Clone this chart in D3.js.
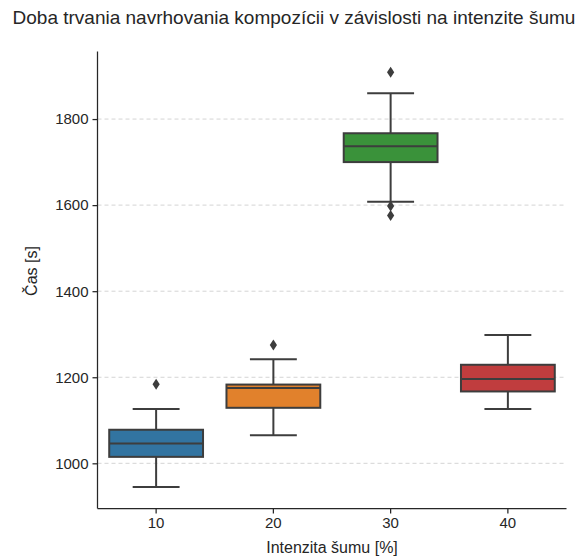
<!DOCTYPE html>
<html>
<head>
<meta charset="utf-8">
<script src="https://cdn.jsdelivr.net/npm/d3@7"></script>
<style>
  body { margin: 0; background: #fff; }
  svg { display: block; font-family: "Liberation Sans", Arial, sans-serif; }
</style>
</head>
<body>
<svg id="chart" width="582" height="558"></svg>
<script>
// Noise intensity categories (x axis)
const categories = ["10", "20", "30", "40"];
// Box statistics per category: lower whisker, Q1, median, Q3, upper whisker
const whiskerLow  = [945, 1065, 1608, 1126];
const q1          = [1015, 1129, 1700, 1167];
const median      = [1046, 1175, 1737, 1196];
const q3          = [1078, 1183, 1767, 1229];
const whiskerHigh = [1126, 1242, 1860, 1298];
// Points beyond the whiskers
const outliers = [[1184], [1275], [1909, 1598, 1576], []];
const colors = ["#3274a1", "#e1812c", "#3a923a", "#c03d3e"];
const yTicks = [1000, 1200, 1400, 1600, 1800];

const svg = d3.select("#chart");
const margin = { left: 97.5, right: 15.5, top: 51.5, bottom: 49.5 };
const W = 582, H = 558;
const innerW = W - margin.left - margin.right;
const innerH = H - margin.top - margin.bottom;
const ink = "#3d3d3d";
const textInk = "#262626";

const x = d3.scaleBand().domain(categories).range([0, innerW]).padding(0);
const y = d3.scaleLinear().domain([895, 1957]).range([innerH, 0]);

const g = svg.append("g").attr("transform", `translate(${margin.left},${margin.top})`);

// Horizontal dashed grid
g.append("g").selectAll("line").data(yTicks).join("line")
  .attr("x1", 0).attr("x2", innerW)
  .attr("y1", d => y(d)).attr("y2", d => y(d))
  .attr("stroke", "#d4d4d4").attr("stroke-width", 1)
  .attr("stroke-dasharray", "4,3");

// Axes
const yAxis = g.append("g")
  .call(d3.axisLeft(y).tickValues(yTicks).tickFormat(d3.format("d")).tickSize(5).tickPadding(4));
const xAxis = g.append("g").attr("transform", `translate(0,${innerH})`)
  .call(d3.axisBottom(x).tickSize(5).tickPadding(4).tickSizeOuter(0));
[yAxis, xAxis].forEach(a => {
  a.select(".domain").attr("stroke", textInk).attr("stroke-width", 1.25);
  a.selectAll(".tick line").attr("stroke", textInk).attr("stroke-width", 1.25);
  a.selectAll(".tick text").attr("fill", textInk).attr("font-size", 15)
    .attr("font-family", "'Liberation Sans', Arial, sans-serif");
});
yAxis.select(".domain").attr("d", `M0,${innerH}V0`);
xAxis.select(".domain").attr("d", `M0,0H${innerW}`);

// Boxes
const boxW = x.bandwidth() * 0.8;
const capW = boxW * 0.5;
const boxes = g.append("g").selectAll("g").data(categories).join("g")
  .attr("transform", d => `translate(${x(d) + x.bandwidth() / 2},0)`);

boxes.append("line")
  .attr("x1", 0).attr("x2", 0)
  .attr("y1", (d, i) => y(whiskerHigh[i])).attr("y2", (d, i) => y(q3[i]))
  .attr("stroke", ink).attr("stroke-width", 2);
boxes.append("line")
  .attr("x1", 0).attr("x2", 0)
  .attr("y1", (d, i) => y(q1[i])).attr("y2", (d, i) => y(whiskerLow[i]))
  .attr("stroke", ink).attr("stroke-width", 2);
boxes.append("line")
  .attr("x1", -capW / 2).attr("x2", capW / 2)
  .attr("y1", (d, i) => y(whiskerHigh[i])).attr("y2", (d, i) => y(whiskerHigh[i]))
  .attr("stroke", ink).attr("stroke-width", 2);
boxes.append("line")
  .attr("x1", -capW / 2).attr("x2", capW / 2)
  .attr("y1", (d, i) => y(whiskerLow[i])).attr("y2", (d, i) => y(whiskerLow[i]))
  .attr("stroke", ink).attr("stroke-width", 2);
boxes.append("rect")
  .attr("x", -boxW / 2).attr("width", boxW)
  .attr("y", (d, i) => y(q3[i])).attr("height", (d, i) => y(q1[i]) - y(q3[i]))
  .attr("fill", (d, i) => colors[i])
  .attr("stroke", ink).attr("stroke-width", 2);
boxes.append("line")
  .attr("x1", -boxW / 2).attr("x2", boxW / 2)
  .attr("y1", (d, i) => y(median[i])).attr("y2", (d, i) => y(median[i]))
  .attr("stroke", ink).attr("stroke-width", 2);

// Outlier diamonds
const diamond = "M0,-5.5L3.6,0L0,5.5L-3.6,0Z";
boxes.each(function (d, i) {
  d3.select(this).selectAll("path.out").data(outliers[i]).join("path")
    .attr("class", "out")
    .attr("d", diamond)
    .attr("transform", v => `translate(0,${y(v)})`)
    .attr("fill", ink);
});

// Axis titles
svg.append("text")
  .attr("x", margin.left + innerW / 2).attr("y", 553)
  .attr("text-anchor", "middle").attr("font-size", 16).attr("fill", textInk)
  .text("Intenzita šumu [%]");
svg.append("text")
  .attr("transform", `translate(37,271) rotate(-90)`)
  .attr("text-anchor", "middle").attr("font-size", 16).attr("fill", textInk)
  .text("Čas [s]");

// Chart title
svg.append("text")
  .attr("x", 294).attr("y", 24)
  .attr("text-anchor", "middle").attr("font-size", 19).attr("fill", textInk)
  .text("Doba trvania navrhovania kompozícii v závislosti na intenzite šumu");
</script>
</body>
</html>
